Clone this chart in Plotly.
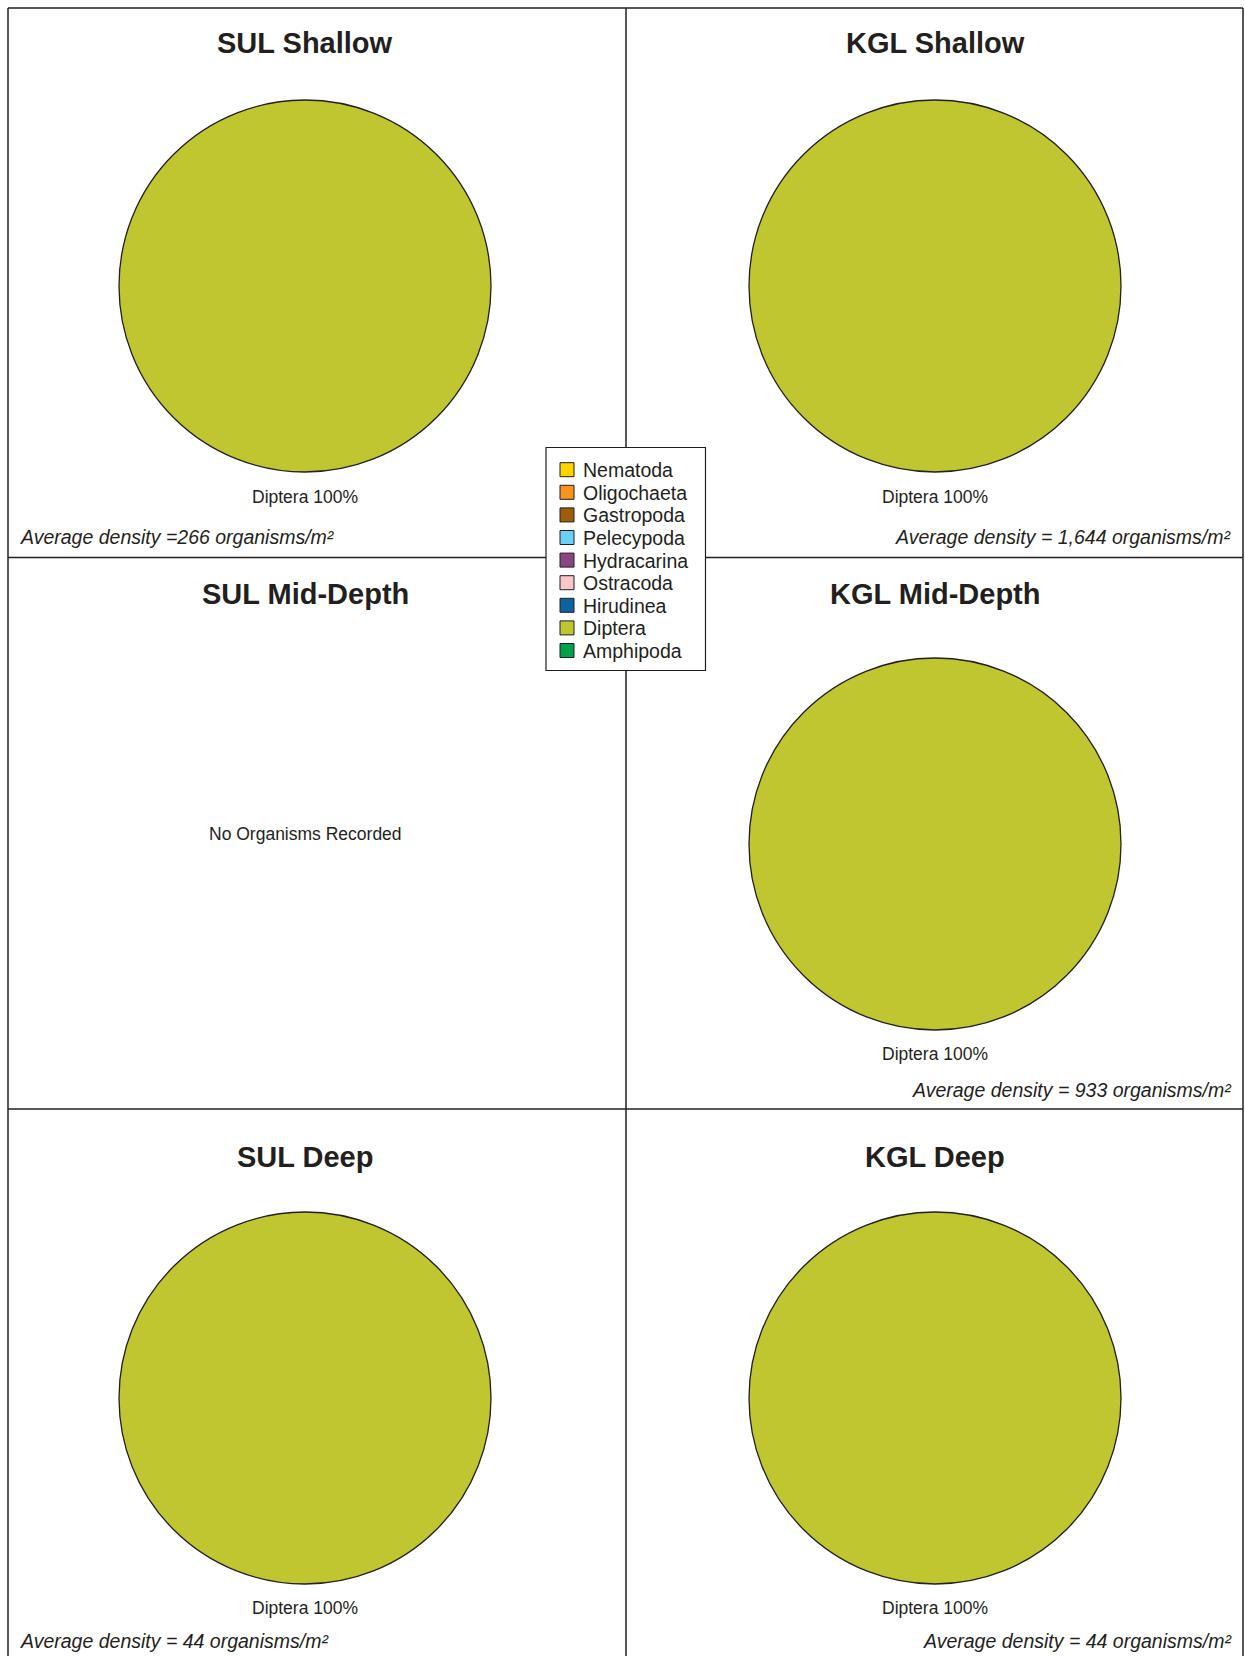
import plotly.graph_objects as go

W, H = 1245, 1656

# ---------------- data ----------------
categories = ["Nematoda", "Oligochaeta", "Gastropoda", "Pelecypoda", "Hydracarina",
              "Ostracoda", "Hirudinea", "Diptera", "Amphipoda"]
colors = ["#FDD400", "#F7931E", "#9C5C0A", "#6BCFF6", "#8B4584",
          "#F8C5CA", "#0B64A0", "#BFC62F", "#00A14B"]

sites = ["SUL Shallow", "KGL Shallow", "SUL Mid-Depth", "KGL Mid-Depth", "SUL Deep", "KGL Deep"]
# percent composition per site (order = categories)
sul_shallow = [0, 0, 0, 0, 0, 0, 0, 100, 0]
kgl_shallow = [0, 0, 0, 0, 0, 0, 0, 100, 0]
sul_mid = [0, 0, 0, 0, 0, 0, 0, 0, 0]
kgl_mid = [0, 0, 0, 0, 0, 0, 0, 100, 0]
sul_deep = [0, 0, 0, 0, 0, 0, 0, 100, 0]
kgl_deep = [0, 0, 0, 0, 0, 0, 0, 100, 0]
site_values = [sul_shallow, kgl_shallow, sul_mid, kgl_mid, sul_deep, kgl_deep]
density_texts = ["Average density =266 organisms/m²",
                 "Average density = 1,644 organisms/m²",
                 "",
                 "Average density = 933 organisms/m²",
                 "Average density = 44 organisms/m²",
                 "Average density = 44 organisms/m²"]
empty_text = "No Organisms Recorded"

# ---------------- layout geometry (pixels) ----------------
col_cx = [305, 935]
row_cy = [286, 844, 1398]
R = 186
title_y = [43, 594, 1157]
pct_y = [497, 1054, 1608]
dens_y = [537, 1090, 1641]
dens_left_x = 18
dens_right_x = 1234

FONT = "Liberation Sans, Arial, sans-serif"
INK = "#231F20"


def px(x):
    return x / W


def py(y):
    return 1 - y / H


fig = go.Figure()
annotations = []
shapes = []

for i, (name, vals) in enumerate(zip(sites, site_values)):
    col = i % 2
    row = i // 2
    cx, cy = col_cx[col], row_cy[row]
    annotations.append(dict(x=px(cx), y=py(title_y[row]), xref="paper", yref="paper",
                            text="<b>%s</b>" % name, showarrow=False,
                            font=dict(family=FONT, size=29, color=INK),
                            xanchor="center", yanchor="middle"))
    labs = [c for c, v in zip(categories, vals) if v > 0]
    vs = [v for v in vals if v > 0]
    cs = [k for k, v in zip(colors, vals) if v > 0]
    if vs:
        fig.add_trace(go.Pie(labels=labs, values=vs, sort=False,
                             marker=dict(colors=cs, line=dict(color=INK, width=1.3)),
                             textinfo="none", showlegend=False, direction="clockwise",
                             domain=dict(x=[px(cx - R), px(cx + R)],
                                         y=[py(cy + R), py(cy - R)])))
        label = " ".join("%s %d%%" % (l, v) for l, v in zip(labs, vs))
        annotations.append(dict(x=px(cx), y=py(pct_y[row]), xref="paper", yref="paper",
                                text=label, showarrow=False,
                                font=dict(family=FONT, size=17.5, color=INK),
                                xanchor="center", yanchor="middle"))
        if col == 0:
            annotations.append(dict(x=px(dens_left_x), y=py(dens_y[row]), xref="paper", yref="paper",
                                    text="<i>%s</i>" % density_texts[i], showarrow=False,
                                    font=dict(family=FONT, size=19.5, color=INK),
                                    xanchor="left", yanchor="middle"))
        else:
            annotations.append(dict(x=px(dens_right_x), y=py(dens_y[row]), xref="paper", yref="paper",
                                    text="<i>%s</i>" % density_texts[i], showarrow=False,
                                    font=dict(family=FONT, size=19.5, color=INK),
                                    xanchor="right", yanchor="middle"))
    else:
        annotations.append(dict(x=px(cx), y=py(834), xref="paper", yref="paper",
                                text=empty_text, showarrow=False,
                                font=dict(family=FONT, size=17.5, color=INK),
                                xanchor="center", yanchor="middle"))

# ---------------- panel frame ----------------
frame_lines = [
    (8, 8, 8, H + 2),        # left
    (8, 8, 1243, 8),         # top
    (1243, 8, 1243, H + 2),  # right
    (626, 8, 626, H + 2),    # centre vertical
    (8, 557.5, 1243, 557.5),
    (8, 1109, 1243, 1109),
]
for x0, y0, x1, y1 in frame_lines:
    shapes.append(dict(type="line", xref="paper", yref="paper",
                       x0=px(x0), y0=py(y0), x1=px(x1), y1=py(y1),
                       line=dict(color=INK, width=1.5), layer="above"))

# ---------------- legend ----------------
shapes.append(dict(type="rect", xref="paper", yref="paper",
                   x0=px(546), x1=px(705.5), y0=py(670.5), y1=py(447.5),
                   fillcolor="white", line=dict(color=INK, width=1.2), layer="above"))
leg_top = 469.7
leg_step = 22.6
for k, (c, col) in enumerate(zip(categories, colors)):
    yc = leg_top + k * leg_step
    shapes.append(dict(type="rect", xref="paper", yref="paper",
                       x0=px(560), x1=px(574), y0=py(yc + 7), y1=py(yc - 7),
                       fillcolor=col, line=dict(color=INK, width=1), layer="above"))
    annotations.append(dict(x=px(581), y=py(yc + 0.5), xref="paper", yref="paper",
                            text=c, showarrow=False,
                            font=dict(family=FONT, size=19.5, color=INK),
                            xanchor="left", yanchor="middle"))

fig.update_layout(width=W, height=H, margin=dict(l=0, r=0, t=0, b=0),
                  paper_bgcolor="white", plot_bgcolor="white",
                  annotations=annotations, shapes=shapes, showlegend=False)

fig.write_html("out.html", config={"displayModeBar": False},
               post_script="document.body.style.margin='0';document.body.style.padding='0';")
